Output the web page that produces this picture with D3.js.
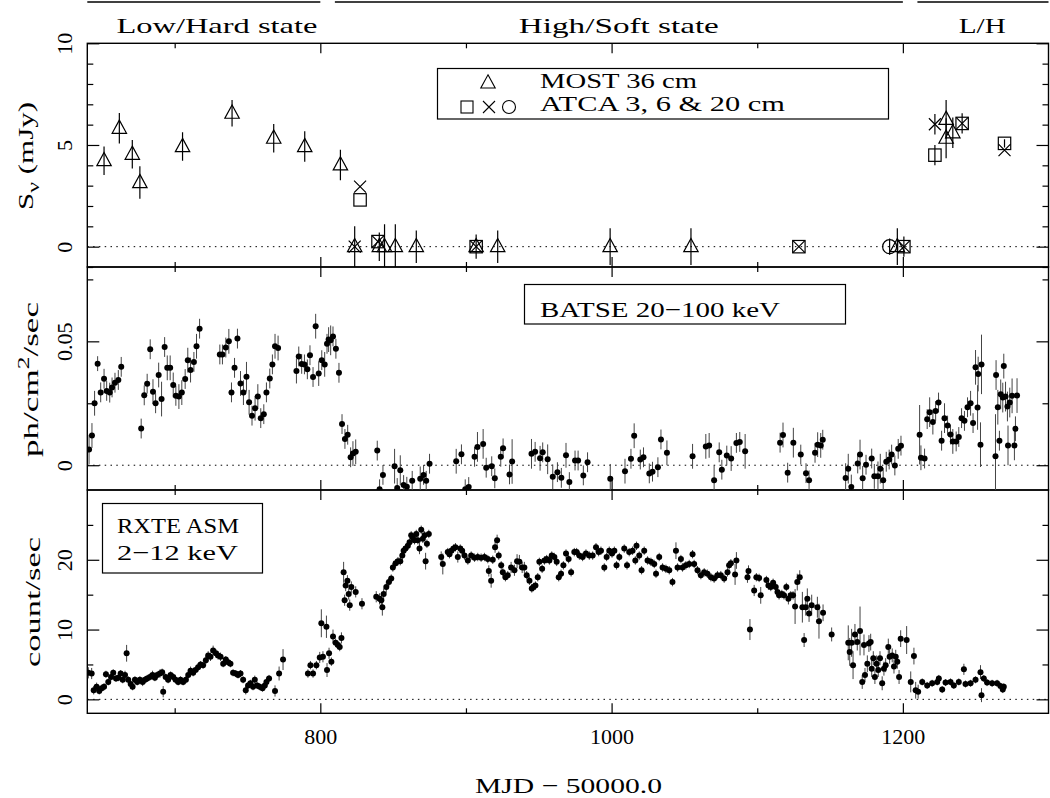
<!DOCTYPE html>
<html><head><meta charset="utf-8">
<script src="https://cdn.jsdelivr.net/npm/d3@7"></script>
<style>
body{margin:0;background:#fff}
svg{display:block}
text{font-family:"Liberation Serif","Times New Roman",serif;fill:#000}
</style></head>
<body><svg id="chart" width="1050" height="798"></svg>
<script>
// ---------------- DATA ----------------
const xDomain = [640, 1300];
const xTicksMajor = [800, 1000, 1200];
const xTicksMinor = [700, 900, 1100];
const xTickLabels = ["800", "1000", "1200"];
const xTitle = "MJD \u2212 50000.0";

const states = ["Low/Hard state", "High/Soft state", "L/H"];
const stateRanges = [[640, 800], [810, 1200], [1210, 1300]];

// Top panel: radio flux density (mJy)  [MJD, S, err]
const mostTri = [
  [651.5,4.23,0.7],[662,5.82,0.75],[670.9,4.54,0.7],[676.1,3.15,0.8],[705.4,4.92,0.7],
  [739.4,6.56,0.65],[768,5.33,0.7],[789.3,4.92,0.75],[813.8,4.02,0.75],
  [823.6,0,1.0],[840.5,0,0.7],[844.1,0,1.1],[851.5,0,1.1],[865.9,0,0.8],[907,0,0.6],
  [921.8,0,0.8],[999,0,0.9],[1054.5,0,0.9],[1196.2,0,0.9],
  [1229.7,6.26,0.95],[1229.7,5.33,0.98],[1234.3,5.6,0.75]
];
const atcaSquares = [
  [827.3,2.3,0],[839.6,0.25,0],[907,0,0],[1128.6,0,0],[1200.7,0,0.5],
  [1222,4.5,0.5],[1240.7,6.06,0.5],[1269.8,5.08,0.2]
];
const atcaCrosses = [
  [823.6,0,0],[827.3,2.95,0],[839.6,0.25,0],[907,0,0],[1128.6,0,0],[1200.7,0,0],
  [1222,6.02,0.5],[1240.7,6.06,0],[1269.8,4.75,0]
];
const atcaCircles = [[1190.9,0,0.4]];
const topTicksMajor = [0, 5, 10];
const topTicksMinor = [-1,1,2,3,4,6,7,8,9];
const topYLabel = ["S", "\u03bd", " (mJy)"];
const legendTop = ["MOST 36 cm", "ATCA 3, 6 & 20 cm"];

// Middle panel: BATSE 20-100 keV  [MJD, flux, err]
const batse = [
[641.2,0.0063,0.006],[643.2,0.012,0.005],[645,0.025,0.005],[647.1,0.041,0.003],[649.2,0.0294,0.004],[651.5,0.0349,0.004],[653.3,0.030,0.004],[655.4,0.0293,0.004],[657,0.0314,0.004],[659,0.0333,0.004],[661.3,0.0344,0.004],[663.3,0.0397,0.004],
[677,0.0148,0.004],[679.1,0.0282,0.004],[681.1,0.0329,0.004],[683.2,0.0468,0.004],[685.1,0.0297,0.005],[686.9,0.025,0.004],[689,0.0364,0.005],[691,0.0267,0.007],[693.1,0.0477,0.004],[694.9,0.0393,0.005],[696.9,0.0393,0.005],[699,0.0324,0.005],[700.8,0.028,0.004],[702.9,0.0277,0.005],[704.9,0.0293,0.005],[707.2,0.0348,0.004],[709,0.0424,0.005],[710.9,0.0384,0.005],[713.2,0.0417,0.004],[715,0.048,0.005],[717.1,0.0551,0.004],
[731,0.0447,0.004],[732.8,0.0447,0.004],[735.1,0.0475,0.004],[737.2,0.05,0.005],[739,0.0294,0.004],[741.1,0.0393,0.004],[743.1,0.0511,0.004],[745.2,0.033,0.005],[747.2,0.0293,0.005],[749.3,0.0357,0.006],[751.1,0.0254,0.005],[753.1,0.02,0.004],[755.2,0.023,0.005],[757.1,0.0277,0.005],[759.1,0.019,0.004],[761.2,0.0206,0.004],[763,0.0294,0.004],[765.3,0.035,0.004],[767.1,0.0407,0.004],[768.9,0.048,0.005],[771,0.0473,0.005],
[783.6,0.038,0.005],[785.2,0.0439,0.004],[787.2,0.0409,0.004],[789.1,0.0407,0.004],[791.1,0.0387,0.004],[792.9,0.0444,0.004],[795,0.0356,0.004],[796.8,0.0561,0.005],[798.9,0.037,0.005],[801,0.0424,0.004],[803,0.0407,0.005],[804.6,0.049,0.004],[805.7,0.0507,0.005],[807.1,0.0504,0.006],[808.7,0.052,0.004],[810.7,0.047,0.004],[812.8,0.0373,0.004],[814.9,0.0166,0.004],[816.9,0.0106,0.004],[818.8,0.0123,0.004],[820.8,0.0032,0.004],[822.4,0.0047,0.005],[824.3,0.0054,0.005],
[839.1,0.0059,0.004],[840.7,-0.0097,0.004],[843,-0.0039,0.004],[851,-0.0004,0.007],[852.8,-0.0092,0.004],[854.9,-0.002,0.006],[857.2,-0.008,0.004],[859.4,-0.0087,0.004],[863.1,-0.0063,0.004],[868.6,-0.0055,0.005],[870.9,-0.0039,0.004],[872.7,-0.0063,0.004],[875,0.0006,0.004],
[893.3,0.0016,0.005],[896.9,0.0044,0.004],[899.5,-0.0097,0.004],[901.9,-0.0088,0.004],[905.9,0.0034,0.004],[907.9,0.0074,0.006],[911.8,0.0086,0.006],[913.9,-0.001,0.004],[917.7,-0.0004,0.004],[919.8,-0.0053,0.004],[923.9,0.0034,0.004],[925.5,0.0068,0.004],[929.9,-0.0037,0.004],[931.7,0.0015,0.009],
[945,0.0046,0.006],[947.5,0.0054,0.004],[950.9,0.0028,0.005],[952.7,0.0052,0.004],[956.1,0.0024,0.006],[959.6,-0.0047,0.005],[962.8,-0.0028,0.004],[965.5,-0.0051,0.004],[968.7,0.004,0.005],[971,-0.0068,0.004],[974.9,0.0019,0.004],[977,0.0019,0.004],[980.6,-0.0041,0.004],[983.5,0.0012,0.004],
[999.1,-0.0055,0.006],[1009.2,-0.0024,0.005],[1013.3,0.0026,0.004],[1015.5,0.0119,0.005],[1019.7,0.0023,0.004],[1021.9,0.0032,0.004],[1025.9,-0.0033,0.004],[1028.1,-0.0026,0.004],[1031.8,-0.0008,0.004],[1033.9,0.0104,0.004],[1038,0.005,0.005],
[1055.6,0.0036,0.005],[1064.7,0.0076,0.005],[1067,0.008,0.005],[1070.4,-0.0061,0.006],[1073.9,0.0052,0.004],[1075.7,-0.0018,0.004],[1079.1,0.0039,0.004],[1082.1,0.0027,0.005],[1085.7,0.009,0.004],[1088,0.0094,0.004],[1091.7,0.0056,0.007],
[1115.7,0.0091,0.004],[1117.7,0.0122,0.005],[1120.9,-0.003,0.004],[1124.8,0.0091,0.006],[1129.9,0.0043,0.004],[1133.5,-0.0032,0.004],[1135.6,-0.0061,0.004],[1139.7,0.005,0.004],[1141.5,0.0083,0.005],[1143.6,0.008,0.005],[1145,0.0103,0.004],
[1160.7,-0.0052,0.006],[1162.5,-0.0014,0.006],[1164.6,-0.0088,0.005],[1169,0.0007,0.004],[1170.6,0.0043,0.006],[1172.4,-0.0053,0.005],[1174.7,0.0002,0.004],[1178.6,0.0027,0.004],[1180.4,-0.0045,0.005],[1182.9,-0.0045,0.006],[1184.5,-0.0014,0.006],[1186.5,-0.0061,0.005],[1188.6,0.0014,0.004],[1190.6,0.0023,0.004],[1192.3,0.0043,0.004],[1194.5,-0.0001,0.004],[1196.8,0.0066,0.004],[1198.7,0.0079,0.004],
[1211.5,0.0123,0.012],[1212.4,0.003,0.005],[1214.9,0.0027,0.004],[1216.7,0.0186,0.004],[1218.4,0.0214,0.006],[1220.6,0.0174,0.005],[1222.5,0.0219,0.004],[1224.5,0.0253,0.004],[1226.6,0.0099,0.004],[1228.6,0.019,0.006],[1230.7,0.016,0.004],[1232.7,0.0124,0.004],[1234.3,0.0096,0.005],[1236.6,0.0096,0.004],[1238.4,0.0114,0.004],[1240.3,0.019,0.004],[1242.3,0.0179,0.004],[1244.4,0.0234,0.004],[1246.5,0.025,0.005],[1248.2,0.017,0.004],[1249.9,0.0395,0.007],[1251.7,0.0368,0.007],[1251.3,0.0233,0.009],[1253.3,0.0083,0.009],[1254,0.0407,0.012],[1263.6,0.0036,0.017],[1264,0.0364,0.006],[1265.2,0.0234,0.007],[1266.3,0.0099,0.004],[1267.2,0.0286,0.006],[1268.6,0.0273,0.006],[1269.3,0.04,0.005],[1270.5,0.0277,0.006],[1271.8,0.0237,0.006],[1272.2,0.008,0.008],[1273.4,0.0253,0.006],[1275,0.028,0.007],[1276.6,0.008,0.006],[1277.3,0.0147,0.005],[1278.4,0.0281,0.007]
];
const midTicksMajor = [0, 0.05];
const midTicksMinor = [0.025, 0.075];
const midTickLabels = ["0", "0.05"];
const midYLabel = ["ph/cm", "2", "/sec"];
const legendMid = "BATSE 20\u2212100 keV";

// Bottom panel: RXTE ASM 2-12 keV  [MJD, rate, err]
const asm = [
[640.7,3.8,0.8],[643,3.7,0.8],[644.4,1.3,0.6],[646.4,1.8,0.6],[648.2,1.2,0.5],[649.9,1.6,0.5],[651.5,1.8,0.5],[652.8,3.6,0.5],[654.4,2.5,0.5],[656.3,3.2,0.5],[657.8,3.8,0.5],[659.7,3.0,0.5],[661.3,3.1,0.5],[662.9,3.7,0.5],[664.3,2.8,0.5],[665.9,3.5,0.6],[667,6.6,1.2],[668.1,2.8,0.5],[669.8,2.2,0.5],[671.1,1.8,0.5],[672.7,2.8,0.5],[674.3,2.5,0.5],[676.1,2.8,0.5],[678,2.5,0.6],[679.6,2.8,0.5],[681.1,3.0,0.5],[683,3.2,0.5],[684.8,3.5,0.6],[686.4,3.1,0.5],[688,3.5,0.5],[689.9,3.7,0.6],[691.4,3.9,0.5],[692.1,1.1,0.8],[693.8,3.2,0.5],[695.5,2.8,0.5],[697.2,3.5,0.5],[699,3.2,0.5],[700.6,2.8,0.5],[702.4,2.5,0.5],[704,2.8,0.5],[705.8,2.5,0.5],[707.7,2.8,0.5],[709.3,3.5,0.5],[710.9,4.1,0.6],[712.7,3.8,0.5],[714.3,4.2,0.5],[716.1,4.6,0.6],[717.8,5.0,0.5],[719.5,4.9,0.5],[721.4,5.6,0.6],[723,6.3,0.6],[724.6,6.1,0.6],[726.4,7.0,0.7],[728.3,6.6,0.6],[729.8,6.3,0.6],[731.5,6.1,0.6],[733.3,5.1,0.5],[735.1,5.7,0.5],[736.7,5.3,0.5],[738.3,5.1,0.5],[740.1,3.8,0.5],[741.9,3.7,0.5],[743.5,3.5,0.5],[745.2,3.7,0.5],[747,2.8,0.5],[748.8,1.3,0.6],[750.4,2.0,0.5],[752,2.3,0.5],[753.8,1.8,0.5],[755,2.8,0.6],[756.6,2.0,0.5],[758.4,1.8,0.5],[760.3,1.6,0.5],[761.9,2.0,0.5],[763,2.5,0.6],[764.8,3.0,0.5],[768.9,1.2,0.8],[771.7,3.7,1.0],[774.4,5.7,1.5],
[791.5,3.7,0.6],[793.2,4.9,0.6],[795,3.7,0.6],[797.3,4.9,0.6],
[799.6,6.0,0.8],[800.7,10.9,2.0],[801.8,6.1,0.8],[804.2,10.4,1.6],[804.6,4.2,1.0],[806,6.6,0.8],[807.6,5.4,0.6],[808.7,9.0,1.0],[810.5,8.1,0.6],[812.1,7.8,0.6],[813.3,7.5,0.6],[814.5,8.8,0.8],
[816,18.2,1.5],[816.7,14.2,0.8],[817.4,16.3,0.8],[818.6,17.0,0.8],[819.5,15.1,0.8],[820.2,13.5,0.8],[821.3,16.1,0.8],[824.3,15.4,0.8],[828.6,13.7,0.8],
[838.4,14.7,0.8],[840.7,14.4,0.8],[841.9,14.2,1.0],[842.6,13.2,1.2],[843.5,15.1,0.8],[845.3,16.1,0.8],[847.1,16.8,0.6],[848.7,17.3,0.6],[849.8,18.9,0.6],[851.7,19.5,0.6],[853.3,19.8,0.6],[854.9,19.8,0.6],[856.3,20.6,0.6],[857.2,21.3,0.6],[858.5,21.6,0.6],[860.1,22.0,0.6],[861.3,22.5,0.6],[862.4,23.5,0.6],[863.5,23.2,0.6],[864.7,22.8,0.6],[865.9,23.7,0.6],[867,22.8,0.6],[868.1,21.6,0.8],[869.3,24.3,0.6],[870.4,23.0,0.6],[871.6,23.5,0.6],[872.3,19.8,1.2],[873.2,22.3,0.6],[874.5,23.7,0.6],
[883,20.4,0.8],[884.1,19.4,1.5],[887.5,21.1,0.6],[888.7,20.8,0.6],[889.9,21.3,0.6],[891.5,21.6,0.6],[892.8,21.8,0.6],[894.4,20.4,0.8],[896.1,21.6,0.6],[897.4,21.3,0.6],[899,20.6,0.6],[901.3,19.9,0.6],[903.6,20.6,0.6],[905.9,20.3,0.6],[908.1,20.4,0.6],[910.4,20.3,0.6],[912.7,20.4,0.6],[915,20.1,0.6],[915.7,18.4,0.8],[917.3,17.0,1.0],[918.4,20.0,0.6],[920,21.8,0.8],[921.4,22.8,0.8],[922.5,20.6,0.6],[924.2,19.2,0.6],[925.3,18.2,0.6],[927.1,17.5,0.6],[928.7,17.8,0.6],[931,18.9,0.8],[933.3,18.5,0.8],[935.1,19.8,1.0],[936.7,19.7,1.0],[938.6,18.9,0.8],[940.1,18.9,0.8],[941.7,17.8,0.6],[943.6,17.0,0.6],[945.2,15.9,0.6],[946.3,16.1,0.6],[947.7,16.3,0.6],[949.3,17.5,0.6],[950.4,19.7,0.6],[952.3,18.7,0.6],[953.9,19.9,0.6],[955.4,20.1,0.6],[957.3,19.9,0.6],[958.9,20.6,0.6],[960.7,20.4,0.6],[962.3,19.7,0.6],[963.7,17.5,0.6],[965.3,18.0,0.6],[966.9,19.2,0.6],[968.7,20.9,0.6],[970.5,20.1,0.6],[972.2,18.2,0.6],[974.4,21.1,0.6],[976,21.1,0.6],[977.9,20.6,0.6],[980.1,20.4,0.6],[982.4,20.9,0.6],[984.7,20.6,0.6],[987,20.6,0.6],[989.3,21.8,0.6],[991.1,21.1,0.6],[992.7,21.3,0.6],[995,18.9,0.6],[996.6,20.4,0.6],[998.4,21.3,0.6],[1000.3,20.9,0.6],[1001.9,21.3,0.6],[1003.4,19.2,0.6],[1005.3,20.4,0.6],[1008.7,21.6,0.6],[1010.6,19.2,0.6],[1012.1,21.1,0.6],[1014.4,21.3,0.6],[1016.3,19.9,0.6],[1017.1,22.0,0.6],[1019,20.6,0.6],[1020.6,18.5,0.6],[1022.4,21.3,0.6],[1024.7,19.9,0.6],[1027,19.7,0.6],[1029.3,19.4,0.6],[1030.5,18.0,0.6],[1032.7,20.4,0.6],[1035,18.9,0.6],[1037.3,18.7,0.6],[1039.6,18.5,0.6],[1041.8,16.8,0.6],[1044.2,21.3,1.2],[1045.3,18.9,0.6],
[1047.6,20.1,0.6],[1048.7,18.9,0.6],[1051,19.2,0.6],[1053.3,19.4,0.6],[1055.6,20.8,0.6],[1056.7,19.4,0.6],[1059,18.5,0.6],[1061.3,17.8,0.6],[1063.6,18.2,0.6],[1065.8,18.0,0.6],[1068.2,17.5,0.6],[1070.4,17.3,0.6],[1072.7,17.8,0.6],[1075,17.8,0.6],[1077.3,17.3,0.6],[1079.6,18.2,0.6],[1080.7,19.2,0.6],[1081.9,19.5,0.6],[1084.8,17.9,1.5],[1085.7,19.9,1.2],
[1093.3,17.5,0.8],[1094,18.4,0.8],[1095,10.0,1.5],[1097.9,15.6,0.8],[1099.4,17.5,0.6],[1101.3,17.4,0.6],[1102.4,14.9,1.2],[1106.3,17.1,0.6],[1107.7,16.3,0.6],[1109.3,16.1,0.6],[1110.9,16.7,0.6],[1112.7,16.1,0.6],[1113.9,15.4,0.6],[1115,14.9,0.6],[1116.9,15.1,0.6],[1118.4,14.9,0.6],[1120,16.1,0.6],[1121.4,14.4,0.8],[1123,14.9,0.6],[1124.6,14.9,0.6],[1126,13.3,2.5],[1127.5,16.8,1.2],[1129.2,17.5,1.0],[1131,13.2,2.2],[1132.2,8.5,1.0],[1133.3,13.2,1.2],[1134.4,14.4,1.5],[1135.6,12.3,1.2],[1137.4,13.5,1.5],[1141.3,13.2,1.5],[1142.4,11.2,2.5],[1145.2,12.4,1.2],[1151.1,9.3,1.0],
[1162.5,8.1,2.5],[1163.5,6.8,2.0],[1164.8,8.1,2.0],[1165.8,4.9,2.0],[1167.1,9.3,1.5],[1168.7,8.2,1.2],[1170.6,9.8,3.5],[1172.1,2.5,1.0],[1173.3,7.8,1.5],[1174,3.5,1.0],[1175.6,5.1,1.2],[1176.7,8.0,1.2],[1177.9,8.2,1.2],[1178.6,4.4,1.2],[1179.7,5.9,1.0],[1180.8,3.2,1.0],[1182,5.1,1.2],[1183.1,4.2,1.0],[1184.3,5.9,1.0],[1185.8,2.3,1.0],[1187,4.4,1.0],[1188.2,4.9,1.0],[1190,7.5,1.2],[1190.9,6.1,1.0],[1192.7,6.3,1.0],[1193.9,4.7,1.0],[1195.1,6.1,1.0],[1196.2,5.4,1.0],[1197.4,3.2,1.0],[1198.5,8.7,1.2],[1202.6,8.5,2.0],[1205.4,2.5,1.5],[1207.6,6.2,1.2],[1208.8,1.3,1.2],[1210.5,1.1,1.0],
[1213.3,2.5,0.5],[1216.7,2.0,0.5],[1220.1,2.3,0.5],[1223.6,2.5,0.5],[1224.7,3.0,0.5],[1227,1.4,0.5],[1229.3,2.4,0.5],[1232.7,2.5,0.5],[1235,2.0,0.5],[1238.4,2.5,0.5],[1241.9,4.3,0.8],[1243,2.2,0.5],[1246.5,2.3,0.5],[1249.9,2.8,0.5],[1253.3,3.9,1.0],[1254,0.6,1.0],[1255.6,3.0,0.5],[1257.8,2.4,0.5],[1261.3,2.3,0.5],[1264.7,2.3,0.5],[1267,1.9,0.5],[1268.6,1.4,0.5],[1269.3,1.8,0.5]
];
const botTicksMajor = [0, 10, 20];
const botTicksMinor = [5, 15, 25];
const botYLabel = "count/sec";
const legendBot = ["RXTE ASM", "2\u221212 keV"];

// ---------------- DRAWING ----------------
const svg = d3.select("#chart");
const L = 87.3, R = 1048.5;
const x = d3.scaleLinear().domain(xDomain).range([L, R]);
const panels = [
  {y: d3.scaleLinear().domain([-1, 10]).range([267, 43.3]), major: topTicksMajor, minor: topTicksMinor, labels: topTicksMajor.map(String)},
  {y: d3.scaleLinear().domain([-0.01, 0.08]).range([490, 267]), major: midTicksMajor, minor: midTicksMinor, labels: midTickLabels},
  {y: d3.scaleLinear().domain([-2, 30]).range([713.3, 490]), major: botTicksMajor, minor: botTicksMinor, labels: botTicksMajor.map(String)}
];
const FS = 22;

panels.forEach((p, i) => {
  const [yb, yt] = p.y.range();
  const id = "clip" + i;
  svg.append("clipPath").attr("id", id).append("rect")
    .attr("x", L).attr("y", yt).attr("width", R - L).attr("height", yb - yt);
  p.clip = `url(#${id})`;
  svg.append("line").attr("x1", L).attr("x2", R).attr("y1", p.y(0)).attr("y2", p.y(0))
    .attr("stroke", "#000").attr("stroke-width", 1).attr("stroke-dasharray", "1.5,4.3");
  const strip = g => { g.select(".domain").remove(); g.selectAll("line").attr("stroke", "#000").attr("stroke-width", 1.2); };
  svg.append("g").attr("transform", `translate(${L},0)`).call(d3.axisLeft(p.y).tickValues(p.minor).tickSize(-6).tickFormat("")).call(strip);
  const la = svg.append("g").attr("transform", `translate(${L},0)`)
    .call(d3.axisLeft(p.y).tickValues(p.major).tickSize(-12).tickFormat((d, k) => p.labels[k])).call(strip);
  la.selectAll("text").attr("transform", "rotate(-90)").attr("x", 0).attr("y", -15.5).attr("dy", 0)
    .attr("text-anchor", "middle").style("font-family", "Liberation Serif").style("font-size", FS + "px").attr("fill", "#000");
  svg.append("g").attr("transform", `translate(${R},0)`).call(d3.axisRight(p.y).tickValues(p.minor).tickSize(-6).tickFormat("")).call(strip);
  svg.append("g").attr("transform", `translate(${R},0)`).call(d3.axisRight(p.y).tickValues(p.major).tickSize(-12).tickFormat("")).call(strip);
  svg.append("g").attr("transform", `translate(0,${yt})`).call(d3.axisTop(x).tickValues(xTicksMinor).tickSize(-5).tickFormat("")).call(strip);
  svg.append("g").attr("transform", `translate(0,${yt})`).call(d3.axisTop(x).tickValues(xTicksMajor).tickSize(-10).tickFormat("")).call(strip);
  svg.append("g").attr("transform", `translate(0,${yb})`).call(d3.axisBottom(x).tickValues(xTicksMinor).tickSize(-5).tickFormat("")).call(strip);
  const bx = svg.append("g").attr("transform", `translate(0,${yb})`)
    .call(d3.axisBottom(x).tickValues(xTicksMajor).tickSize(-10).tickFormat((d, k) => i === 2 ? xTickLabels[k] : "")).call(strip);
  bx.selectAll("text").attr("y", 31).attr("dy", 0).style("font-family", "Liberation Serif").style("font-size", FS + "px").attr("fill", "#000");
  svg.append("rect").attr("x", L).attr("y", yt).attr("width", R - L).attr("height", yb - yt)
    .attr("fill", "none").attr("stroke", "#000").attr("stroke-width", 1.4);
});

// state bars & labels
const stateCx = [729, 1005, 1254.5];
const stateW = [201, 200, 47];
stateRanges.forEach((r) => {
  svg.append("line").attr("x1", x(r[0])).attr("x2", x(r[1])).attr("y1", 2).attr("y2", 2)
    .attr("stroke", "#000").attr("stroke-width", 1.3);
});
states.forEach((s, i) => {
  svg.append("text").attr("x", x(stateCx[i]) - stateW[i] / 2).attr("y", 33).attr("font-size", FS)
    .attr("textLength", stateW[i]).attr("lengthAdjust", "spacingAndGlyphs").text(s);
});

// ---- top panel marks
const pT = panels[0];
const gT = svg.append("g").attr("clip-path", pT.clip);
const errDraw = (g, data, y, col, w) => g.selectAll(null).data(data.filter(d => d[2] > 0)).join("line")
  .attr("x1", d => x(d[0])).attr("x2", d => x(d[0]))
  .attr("y1", d => y(d[1] - d[2])).attr("y2", d => y(d[1] + d[2]))
  .attr("stroke", col).attr("stroke-width", w);
errDraw(gT, mostTri, pT.y, "#000", 1.2);
errDraw(gT, atcaSquares, pT.y, "#000", 1.2);
errDraw(gT, atcaCrosses, pT.y, "#000", 1.2);
errDraw(gT, atcaCircles, pT.y, "#000", 1.2);
const triPath = "M0,-8.2L7.2,5L-7.2,5Z";
const crossPath = "M-6,-6L6,6M-6,6L6,-6";
const drawSym = (g, data, y, kind) => {
  const sel = g.selectAll(null).data(data).join(kind === "circle" ? "circle" : (kind === "square" ? "rect" : "path"));
  if (kind === "circle") sel.attr("cx", d => x(d[0])).attr("cy", d => y(d[1])).attr("r", 7);
  else if (kind === "square") sel.attr("x", d => x(d[0]) - 6.2).attr("y", d => y(d[1]) - 6.2).attr("width", 12.4).attr("height", 12.4);
  else sel.attr("transform", d => `translate(${x(d[0])},${y(d[1])})`).attr("d", kind === "tri" ? triPath : crossPath);
  sel.attr("fill", "none").attr("stroke", "#000").attr("stroke-width", 1.2);
};
drawSym(gT, mostTri, pT.y, "tri");
drawSym(gT, atcaSquares, pT.y, "square");
drawSym(gT, atcaCrosses, pT.y, "cross");
drawSym(gT, atcaCircles, pT.y, "circle");

// top legend
svg.append("rect").attr("x", 437.5).attr("y", 68.5).attr("width", 451).attr("height", 50.5)
  .attr("fill", "none").attr("stroke", "#000").attr("stroke-width", 1.2);
svg.append("path").attr("transform", "translate(488,83)").attr("d", triPath).attr("fill", "none").attr("stroke", "#000").attr("stroke-width", 1.1);
svg.append("rect").attr("x", 461).attr("y", 101).attr("width", 12).attr("height", 12).attr("fill", "none").attr("stroke", "#000").attr("stroke-width", 1.1);
svg.append("path").attr("transform", "translate(489,107)").attr("d", crossPath).attr("fill", "none").attr("stroke", "#000").attr("stroke-width", 1.1);
svg.append("circle").attr("cx", 509).attr("cy", 107).attr("r", 6.5).attr("fill", "none").attr("stroke", "#000").attr("stroke-width", 1.1);
svg.append("text").attr("x", 540).attr("y", 88).attr("font-size", 20).attr("textLength", 157).attr("lengthAdjust", "spacingAndGlyphs").text(legendTop[0]);
svg.append("text").attr("x", 540).attr("y", 111).attr("font-size", 20).attr("textLength", 245).attr("lengthAdjust", "spacingAndGlyphs").text(legendTop[1]);

// ---- middle & bottom panels
const drawDots = (p, data) => {
  const g = svg.append("g").attr("clip-path", p.clip);
  errDraw(g, data, p.y, "#444", 1);
  g.selectAll(null).data(data).join("circle")
    .attr("cx", d => x(d[0])).attr("cy", d => p.y(d[1])).attr("r", 3).attr("fill", "#000");
};
drawDots(panels[1], batse);
drawDots(panels[2], asm);

svg.append("rect").attr("x", 524.5).attr("y", 284.5).attr("width", 321).attr("height", 39.5)
  .attr("fill", "none").attr("stroke", "#000").attr("stroke-width", 1.2);
svg.append("text").attr("x", 540).attr("y", 317).attr("font-size", FS).attr("textLength", 240).attr("lengthAdjust", "spacingAndGlyphs").text(legendMid);

svg.append("rect").attr("x", 102.5).attr("y", 503.5).attr("width", 160).attr("height", 69.5)
  .attr("fill", "none").attr("stroke", "#000").attr("stroke-width", 1.2);
svg.append("text").attr("x", 117).attr("y", 533).attr("font-size", FS).attr("textLength", 122).attr("lengthAdjust", "spacingAndGlyphs").text(legendBot[0]);
svg.append("text").attr("x", 117).attr("y", 560).attr("font-size", FS).attr("textLength", 121).attr("lengthAdjust", "spacingAndGlyphs").text(legendBot[1]);

// y axis titles (rotated)
const t1 = svg.append("text").attr("transform", "translate(33,210) rotate(-90)").attr("font-size", FS)
  .attr("textLength", 108).attr("lengthAdjust", "spacingAndGlyphs");
t1.append("tspan").text(topYLabel[0]);
t1.append("tspan").attr("dy", 6).attr("font-size", 17).text(topYLabel[1]);
t1.append("tspan").attr("dy", -6).text(topYLabel[2]);
const t2 = svg.append("text").attr("transform", "translate(38,457) rotate(-90)").attr("font-size", FS)
  .attr("textLength", 155).attr("lengthAdjust", "spacingAndGlyphs");
t2.append("tspan").text(midYLabel[0]);
t2.append("tspan").attr("dy", -9).attr("font-size", 16).text(midYLabel[1]);
t2.append("tspan").attr("dy", 9).text(midYLabel[2]);
svg.append("text").attr("transform", "translate(40,667) rotate(-90)").attr("font-size", FS)
  .attr("textLength", 130).attr("lengthAdjust", "spacingAndGlyphs").text(botYLabel);

// x axis title
svg.append("text").attr("x", 475).attr("y", 793).attr("font-size", FS).attr("textLength", 187).attr("lengthAdjust", "spacingAndGlyphs").text(xTitle);
</script></body></html>
